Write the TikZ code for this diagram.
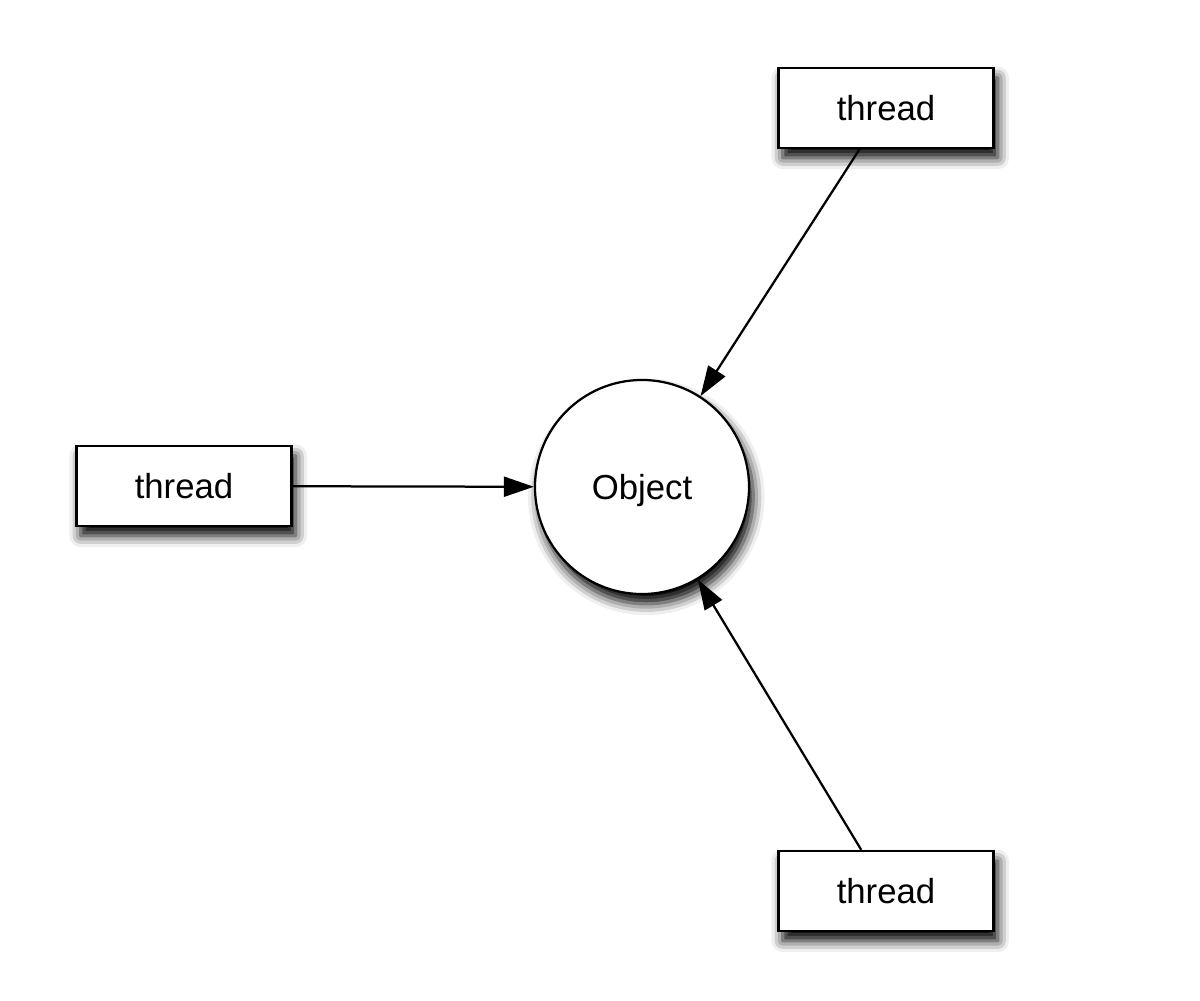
\documentclass[tikz,border=0pt]{standalone}
\usepackage{fontspec}
\setmainfont{Liberation Sans}
\usetikzlibrary{arrows.meta,shadows.blur}

\begin{document}
\begin{tikzpicture}[x=0.025cm,y=-0.025cm,line width=1.6pt,
  threadbox/.style={draw,fill=white,minimum width=5.375cm,minimum height=2cm,
    blur shadow={shadow xshift=3pt,shadow yshift=-7pt,shadow blur radius=8pt,shadow opacity=100},
    font=\fontsize{24.7}{30}\selectfont},
  objnode/.style={circle,draw,fill=white,minimum size=5.35cm,inner sep=0pt,text depth=0pt,
    blur shadow={shadow xshift=3pt,shadow yshift=-7pt,shadow blur radius=8pt,shadow opacity=100},
    font=\fontsize{24.7}{30}\selectfont},
  >={Triangle[length=0.75cm,width=0.5cm]}]
\useasboundingbox (0,0) rectangle (1200,1000);
\node [objnode] (obj) at (642,487) {Object};
\node [threadbox] (left) at (184,486) {thread};
\node [threadbox] (top) at (886,108) {thread};
\node [threadbox] (bottom) at (886,891) {thread};
  \foreach \src in {left,top,bottom}
  {  \draw [->] (\src) -- (obj);}
\end{tikzpicture}
\end{document}
